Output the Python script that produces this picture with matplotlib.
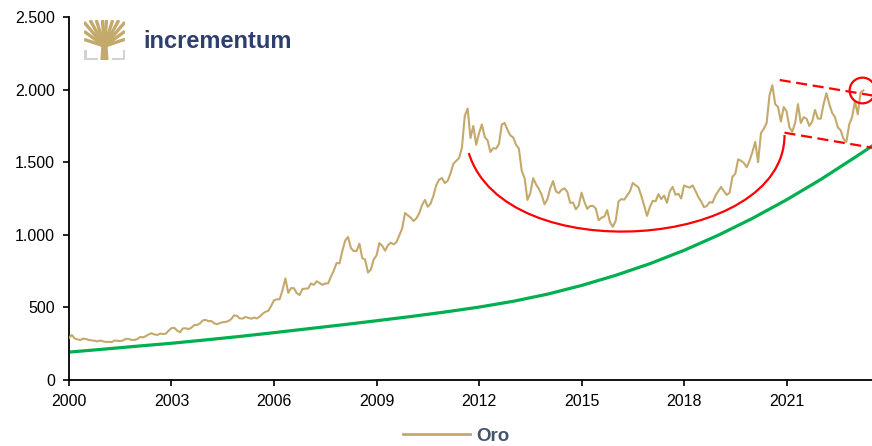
import numpy as np
import matplotlib.pyplot as plt
from matplotlib.path import Path
from matplotlib.patches import PathPatch, Polygon
from matplotlib.lines import Line2D

plt.rcParams['font.family'] = ['Liberation Sans', 'DejaVu Sans']

# Gold price (USD/oz), monthly, Jan 2000 - Apr 2023
gold = [
    290, 310, 286, 280, 275, 285, 282, 275, 273, 270, 266, 272,   # 2000
    266, 262, 263, 261, 272, 270, 268, 273, 283, 283, 276, 276,   # 2001
    282, 296, 294, 302, 314, 322, 314, 310, 319, 317, 319, 340,   # 2002
    357, 359, 340, 329, 355, 356, 351, 360, 379, 379, 390, 410,   # 2003
    414, 405, 406, 390, 384, 392, 398, 400, 406, 420, 445, 442,   # 2004
    424, 423, 434, 428, 422, 430, 424, 437, 456, 470, 476, 510,   # 2005
    549, 555, 557, 620, 700, 600, 633, 632, 598, 585, 627, 629,   # 2006
    631, 665, 655, 680, 668, 655, 665, 665, 712, 754, 806, 803,   # 2007
    889, 960, 985, 909, 888, 889, 939, 839, 829, 740, 760, 830,   # 2008
    858, 943, 924, 890, 928, 946, 934, 949, 996, 1043, 1150, 1134,   # 2009
    1118, 1095, 1113, 1148, 1205, 1240, 1193, 1215, 1271, 1343, 1380, 1391,   # 2010
    1356, 1372, 1424, 1490, 1510, 1529, 1600, 1820, 1870, 1666, 1750, 1620,   # 2011
    1700, 1760, 1673, 1650, 1570, 1596, 1594, 1626, 1760, 1770, 1722, 1684,   # 2012
    1671, 1620, 1593, 1440, 1390, 1240, 1286, 1390, 1348, 1316, 1275, 1210,   # 2013
    1244, 1320, 1370, 1299, 1287, 1310, 1320, 1296, 1220, 1222, 1176, 1201,   # 2014
    1290, 1227, 1179, 1198, 1199, 1181, 1100, 1118, 1125, 1170, 1086, 1055,   # 2015
    1097, 1230, 1246, 1242, 1270, 1300, 1357, 1341, 1326, 1267, 1200, 1130,   # 2016
    1192, 1234, 1231, 1280, 1246, 1270, 1220, 1300, 1330, 1275, 1283, 1250,   # 2017
    1340, 1331, 1325, 1340, 1303, 1260, 1230, 1190, 1199, 1225, 1221, 1270,   # 2018
    1300, 1330, 1300, 1275, 1290, 1400, 1420, 1520, 1510, 1495, 1465, 1510,   # 2019
    1570, 1640, 1500, 1700, 1730, 1770, 1960, 2030, 1900, 1880, 1780, 1880,   # 2020
    1850, 1740, 1710, 1770, 1900, 1770, 1810, 1800, 1750, 1780, 1860, 1800,   # 2021
    1800, 1900, 1975, 1900, 1840, 1810, 1740, 1720, 1660, 1640, 1760, 1810,   # 2022
    1920, 1830, 1980, 1995,   # 2023
]

# trend curve (green), yearly
trend_years = [2000, 2001, 2002, 2003, 2004, 2005, 2006, 2007, 2008, 2009, 2010, 2011,
               2012, 2013, 2014, 2015, 2016, 2017, 2018, 2019, 2020, 2021, 2022, 2023, 2023.5]
trend = [192, 212, 233, 253, 276, 300, 326, 353, 380, 408, 437, 468,
         502, 542, 591, 651, 721, 801, 893, 997, 1113, 1241, 1381, 1533, 1611]

# annotations: cup (bezier control points), channel lines, circle
cup_x = [2011.70, 2012.75, 2020.94, 2020.94]
cup_y = [1563, 758, 895, 1687]
upper_x, upper_y = [2020.80, 2023.55], [2066, 1958]
lower_x, lower_y = [2020.94, 2023.55], [1703, 1598]
circle_x, circle_y = 2023.2, 2000

xticks = [2000, 2003, 2006, 2009, 2012, 2015, 2018, 2021]
yticks = [0, 500, 1000, 1500, 2000, 2500]

GOLD = '#C4A96C'
GREEN = '#00B050'
RED = '#FF0000'

fig = plt.figure(figsize=(8.72, 4.46), dpi=100)
ax = fig.add_axes([0.0791, 0.148, 0.9209, 0.8139])

t = 2000 + np.arange(len(gold)) / 12
ax.plot(t, gold, color=GOLD, lw=1.5, zorder=3)
ax.plot(trend_years, trend, color=GREEN, lw=2.3, zorder=2)

verts = list(zip(cup_x, cup_y))
cup = Path(verts, [Path.MOVETO, Path.CURVE4, Path.CURVE4, Path.CURVE4])
ax.add_patch(PathPatch(cup, fc='none', ec=RED, lw=1.6, zorder=4))
ax.plot(upper_x, upper_y, color=RED, lw=1.6, dashes=(5, 2.5), zorder=4)
ax.plot(lower_x, lower_y, color=RED, lw=1.6, dashes=(5, 2.5), zorder=4)
ax.plot([circle_x], [circle_y], marker='o', ms=18.5, mfc='none', mec=RED,
        mew=1.6, clip_on=False, zorder=5)

ax.set_xlim(2000, 2023.5)
ax.set_ylim(0, 2500)
ax.set_xticks(xticks)
ax.set_yticks(yticks)
ax.set_yticklabels([f'{v:,}'.replace(',', '.') for v in yticks])
for s in ['top', 'right']:
    ax.spines[s].set_visible(False)
for s in ['left', 'bottom']:
    ax.spines[s].set_linewidth(1.3)
ax.tick_params(direction='out', length=4, width=1.2, labelsize=11.5, pad=6)

leg_line = Line2D([], [], color=GOLD, lw=2)
leg = fig.legend([leg_line], ['Oro'], loc='center', bbox_to_anchor=(0.523, 0.022),
                 frameon=False, handlelength=3.6, handletextpad=0.3,
                 prop={'weight': 'bold', 'size': 13.5})
for txt in leg.get_texts():
    txt.set_color('#44546A')

# logo
lax = fig.add_axes([0.0963, 0.865, 0.047, 0.09])
lax.set_xlim(0, 1)
lax.set_ylim(0, 1)
lax.axis('off')
lax.add_patch(Polygon([(0.40, 0.0), (0.60, 0.0), (0.57, 0.45), (0.43, 0.45)],
                      closed=True, fc=GOLD, ec='none'))
for bx, by in [(0.0, 0.95), (0.15, 1.0), (0.3, 1.0), (0.45, 1.0), (0.55, 1.0),
               (0.7, 1.0), (0.85, 1.0), (1.0, 0.95), (0.0, 0.72), (1.0, 0.72),
               (0.0, 0.52), (1.0, 0.52)]:
    lax.plot([0.5, bx], [0.35, by], color=GOLD, lw=2.4, solid_capstyle='butt')
lax.plot([0.02, 0.02, 0.3], [0.22, 0.02, 0.02], color='#D3D3D3', lw=2.2)
lax.plot([0.98, 0.98, 0.7], [0.22, 0.02, 0.02], color='#D3D3D3', lw=2.2)
fig.text(0.164, 0.908, 'incrementum', color='#2E3F6E', fontsize=17,
         fontweight='bold', va='center', ha='left')

fig.savefig('out.png', dpi=100)
